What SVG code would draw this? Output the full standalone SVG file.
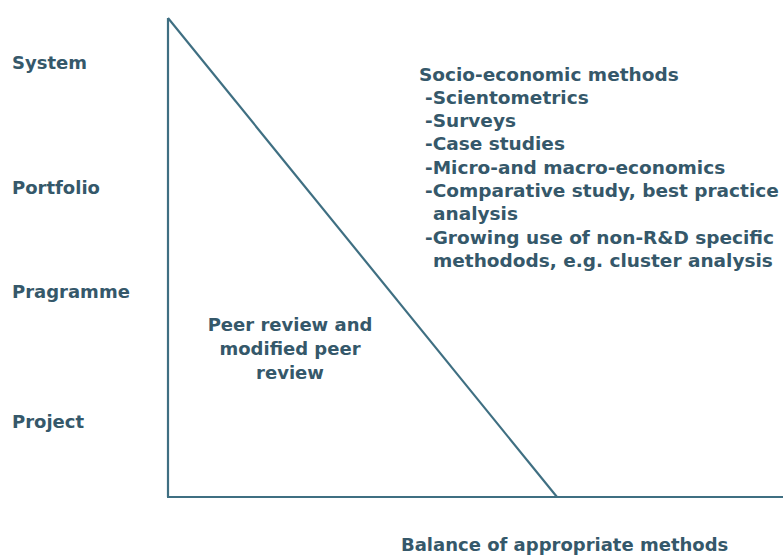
<svg xmlns="http://www.w3.org/2000/svg" width="783" height="556" viewBox="0 0 783 556">
<style>
text{font-family:"DejaVu Sans","Liberation Sans",sans-serif;font-size:18px;font-weight:bold;fill:#35586a}
#socio text{font-size:18.5px}
.ax{stroke:#3f6f82;stroke-width:2.2;fill:none}
</style>
<rect width="783" height="556" fill="#fff"/>
<g id="connectors">
<line class="ax" x1="168" y1="18" x2="168" y2="497"/>
<line class="ax" x1="167" y1="497" x2="783" y2="497"/>
<line class="ax" x1="168" y1="18" x2="557" y2="497"/>
</g>
<g id="levels">
<text x="12" y="69">System</text>
<text x="12" y="194">Portfolio</text>
<text x="12" y="298">Pragramme</text>
<text x="12" y="428">Project</text>
</g>
<g id="socio">
<text x="419" y="81">Socio-economic methods</text>
<text x="425" y="104">-Scientometrics</text>
<text x="425" y="127">-Surveys</text>
<text x="425" y="150">-Case studies</text>
<text x="425" y="174">-Micro-and macro-economics</text>
<text x="425" y="197">-Comparative study, best practice</text>
<text x="433" y="220">analysis</text>
<text x="425" y="244">-Growing use of non-R&amp;D specific</text>
<text x="433" y="267">methodods, e.g. cluster analysis</text>
</g>
<g id="peer">
<text x="290" y="331" text-anchor="middle">Peer review and</text>
<text x="290" y="355" text-anchor="middle">modified peer</text>
<text x="290" y="379" text-anchor="middle">review</text>
</g>
<g id="balance">
<text x="401" y="551">Balance of appropriate methods</text>
</g>
</svg>
